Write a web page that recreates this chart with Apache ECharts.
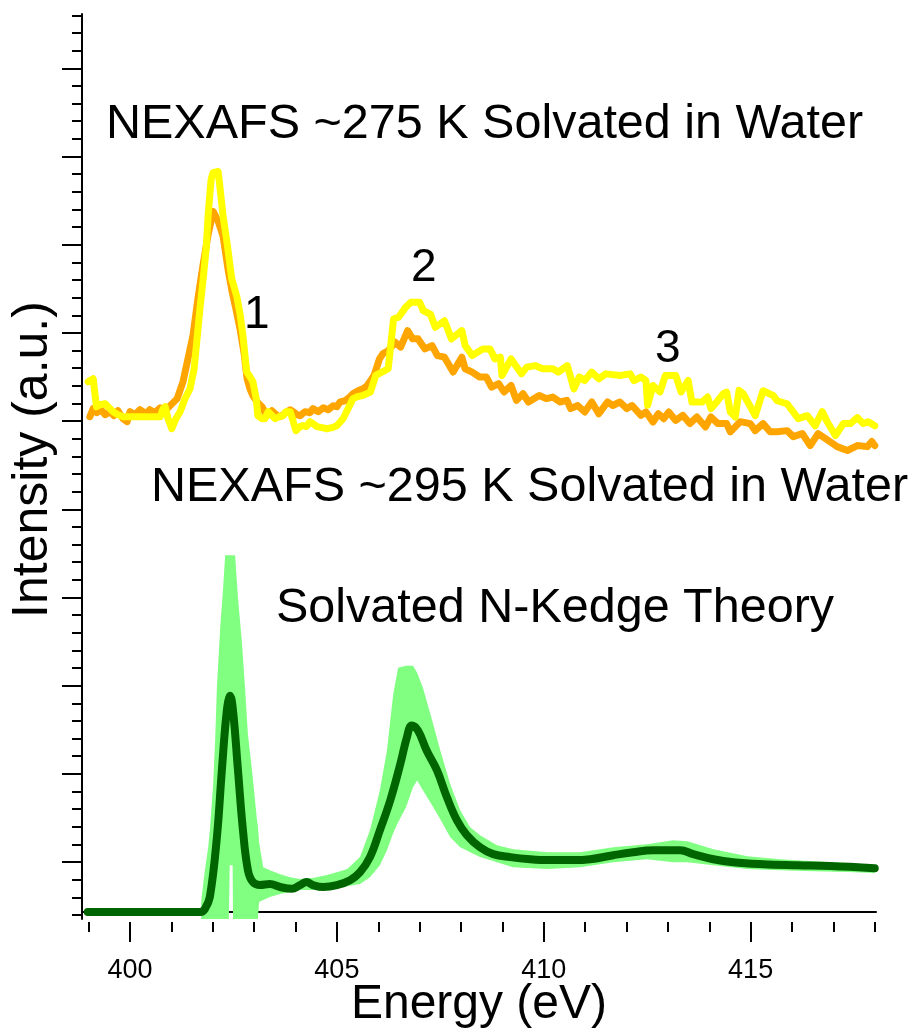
<!DOCTYPE html>
<html>
<head>
<meta charset="utf-8">
<title>NEXAFS N-Kedge</title>
<script src="https://cdn.jsdelivr.net/npm/echarts@6.0.0/dist/echarts.min.js"></script>
<style>
  html, body { margin: 0; padding: 0; background: #fff; }
  #chart { width: 914px; height: 1034px; }
</style>
</head>
<body>
<div id="chart"></div>
<script>
const FONT = '"Liberation Sans", Arial, sans-serif';

// NEXAFS ~295 K (orange)
const orangeEnergy = [
  399.03, 399.11, 399.20, 399.30, 399.40, 399.52, 399.61, 399.71, 399.83, 399.93,
  400.00, 400.12, 400.24, 400.39, 400.48, 400.60, 400.73, 400.85, 400.97, 401.14,
  401.28, 401.40, 401.52, 401.64, 401.76, 401.89, 402.01, 402.13, 402.25, 402.37,
  402.47, 402.56, 402.66, 402.76, 402.83, 402.90, 402.97, 403.09, 403.19, 403.31,
  403.43, 403.53, 403.63, 403.77, 403.87, 403.94, 404.04, 404.11, 404.23, 404.35,
  404.42, 404.55, 404.67, 404.79, 404.91, 405.00, 405.08, 405.20, 405.32, 405.39,
  405.51, 405.63, 405.73,
  405.90, 406.03, 406.11, 406.24, 406.41, 406.54, 406.71, 406.83, 406.96, 407.13,
  407.30, 407.43, 407.60, 407.81, 408.02, 408.10, 408.27, 408.45, 408.61, 408.74,
  408.91, 409.04, 409.21, 409.34, 409.50, 409.63, 409.89, 410.06, 410.22, 410.39,
  410.56, 410.65, 410.82, 410.99, 411.16, 411.33, 411.54, 411.67, 411.84, 412.01,
  412.13, 412.35, 412.47, 412.64, 412.77, 412.90, 413.02, 413.19, 413.36, 413.53,
  413.70, 413.91, 414.04, 414.21, 414.42, 414.51,
  414.75, 414.99, 415.11, 415.30, 415.47, 415.64, 415.88, 416.03, 416.25, 416.44,
  416.63, 416.88, 417.09, 417.34, 417.58, 417.82, 417.93, 418.00,
];
const orangeIntensity = [
  28.17, 28.63, 28.40, 28.57, 28.29, 28.46, 28.23, 28.51, 28.06, 27.89,
  28.46, 28.29, 28.57, 28.34, 28.57, 28.40, 28.68, 28.51, 28.80, 29.20,
  30.16, 31.46, 32.77, 34.86, 36.73, 38.55, 39.85, 39.29, 38.44, 36.56,
  35.26, 34.30, 33.16, 31.75, 30.33, 29.76, 29.37, 28.97, 28.74, 28.23,
  28.51, 28.29, 28.17, 28.40, 28.57, 28.46, 28.29, 28.23, 28.46, 28.40,
  28.63, 28.46, 28.68, 28.57, 28.80, 28.74, 29.02, 29.08, 29.31, 29.48,
  29.65, 29.76, 29.93,
  30.52, 31.46, 31.75, 31.93, 32.41, 32.13, 33.07, 32.60, 32.60, 32.03,
  32.22, 31.65, 31.56, 30.71, 31.56, 30.90, 30.71, 30.43, 30.43, 29.86,
  30.05, 29.58, 29.95, 29.10, 29.48, 29.01, 29.38, 29.20, 29.29, 29.01,
  29.10, 28.63, 28.81, 28.44, 29.01, 28.34, 29.01, 28.81, 29.01, 28.63,
  28.81, 28.25, 28.44, 27.87, 28.34, 28.06, 28.44, 27.96, 28.25, 27.78,
  28.16, 27.59, 28.16, 27.78, 27.78, 27.31,
  27.89, 27.78, 27.38, 27.78, 27.32, 27.32, 27.38, 27.04, 27.21, 26.53,
  27.21, 26.81, 26.47, 26.25, 26.53, 26.47, 26.76, 26.53,
];

// NEXAFS ~275 K (yellow)
const yellowEnergy = [
  398.99, 399.11, 399.19, 399.27, 399.40, 399.52, 399.59, 399.71, 399.83, 400.73,
  400.80, 400.85, 400.92, 401.01, 401.11, 401.21, 401.33, 401.45, 401.55, 401.62,
  401.69, 401.76, 401.84, 401.89, 401.96, 402.01, 402.13, 402.18, 402.25, 402.35,
  402.46, 402.58, 402.66, 402.73, 402.82, 402.90, 402.97, 403.05, 403.09, 403.19,
  403.26, 403.34, 403.38, 403.46, 403.51, 403.60, 403.70, 403.77, 403.87, 403.94,
  404.01, 404.11, 404.18, 404.26, 404.35, 404.42, 404.52, 404.64, 404.76, 404.88,
  405.00, 405.15, 405.27, 405.39, 405.49, 405.61, 405.81, 405.94, 406.24, 406.37,
  406.49, 406.66, 406.79, 407.00, 407.09, 407.26, 407.38, 407.60, 407.77, 408.02,
  408.10, 408.27, 408.53, 408.70, 408.82, 408.95, 408.99, 409.21, 409.46, 409.59,
  409.80, 409.97, 410.22, 410.35, 410.57, 410.73, 410.86, 410.99, 411.16, 411.33,
  411.50, 411.84, 412.09, 412.18, 412.35, 412.47, 412.51, 412.64, 412.81, 412.94,
  413.19, 413.32, 413.49, 413.58, 413.83, 413.96, 414.04, 414.21, 414.34, 414.42,
  414.51, 414.63, 414.72, 414.82, 415.06, 415.11, 415.30, 415.55, 415.64, 415.88,
  416.15, 416.37, 416.56, 416.73, 416.85, 417.05, 417.24, 417.41, 417.58, 417.72,
  417.84, 418.00,
];
const yellowIntensity = [
  30.16, 30.33, 28.74, 28.85, 28.91, 28.63, 28.46, 28.29, 28.17, 28.17,
  28.63, 28.74, 28.06, 27.49, 28.06, 28.46, 29.20, 29.76, 30.90, 32.60,
  34.30, 35.83, 37.70, 39.68, 41.67, 42.06, 42.12, 41.10, 39.57, 37.98,
  36.00, 35.03, 34.01, 32.77, 30.73, 30.44, 30.16, 29.20, 28.23, 28.06,
  28.06, 28.46, 28.46, 28.17, 28.06, 28.17, 28.23, 28.46, 28.46, 27.95,
  27.38, 27.61, 27.66, 27.61, 27.89, 27.78, 27.61, 27.55, 27.49, 27.55,
  27.66, 28.06, 28.63, 29.20, 29.31, 29.37, 29.57, 30.52, 30.90, 33.73,
  33.83, 34.39, 34.68, 34.68, 34.20, 34.01, 33.26, 33.63, 32.60, 33.07,
  32.22, 31.65, 32.03, 32.03, 31.46, 31.56, 30.52, 31.46, 30.61, 30.99,
  31.08, 30.90, 30.90, 30.71, 31.08, 29.76, 30.43, 30.23, 30.71, 30.33,
  30.61, 30.52, 30.61, 30.23, 30.43, 30.23, 28.82, 29.95, 29.58, 30.52,
  30.52, 29.58, 30.23, 29.01, 29.01, 29.29, 28.63, 29.10, 29.48, 29.57,
  28.44, 28.16, 29.67, 29.48, 28.46, 28.23, 29.65, 29.37, 29.08, 28.91,
  28.06, 28.23, 27.66, 28.46, 27.89, 27.10, 27.78, 27.78, 28.12, 27.78,
  27.89, 27.66,
];

// Solvated N-Kedge theory: mean curve
const theoryEnergy = [
  398.98, 401.70, 401.81, 401.93, 402.10, 402.22, 402.34, 402.42, 402.49, 402.61,
  402.73, 402.85, 402.97, 403.14, 403.38, 403.63, 403.91, 404.11, 404.27, 404.42,
  404.67, 405.00, 405.32, 405.56, 405.80, 406.04, 406.29, 406.53, 406.69, 406.81,
  406.96, 407.17, 407.42, 407.66, 407.90, 408.14, 408.46, 408.78, 409.19, 409.67,
  410.15, 410.71, 411.12, 411.68, 412.16, 412.65, 413.30, 413.61, 414.10, 414.58,
  415.30, 416.13, 416.92, 418.00,
];
const theoryIntensity = [
  0, 0, 0.17, 0.85, 4.25, 8.05, 11.45, 12.30, 11.45, 8.05,
  4.65, 2.38, 1.70, 1.53, 1.59, 1.42, 1.32, 1.53, 1.70, 1.53,
  1.42, 1.53, 1.81, 2.27, 3.12, 4.65, 6.35, 8.39, 9.92, 10.60,
  10.32, 9.18, 8.05, 6.52, 5.22, 4.37, 3.68, 3.29, 3.12, 3.00,
  2.95, 2.95, 3.00, 3.23, 3.40, 3.51, 3.51, 3.29, 3.00, 2.83,
  2.72, 2.66, 2.61, 2.49,
];

// Solvated N-Kedge theory: spread band
const bandEnergy = [
  401.72, 401.76, 401.81, 401.89, 401.93, 402.01, 402.06, 402.10, 402.18, 402.25,
  402.30, 402.39, 402.41, 402.48, 402.49, 402.54, 402.61, 402.71, 402.78, 402.85,
  402.95, 403.07, 403.09, 403.12, 403.22, 403.38, 403.63, 403.87, 404.11, 404.42,
  404.76, 405.08, 405.25, 405.56, 405.80, 406.04, 406.21, 406.36, 406.48, 406.67,
  406.84, 406.94, 407.08, 407.33, 407.50, 407.74, 407.98, 408.22, 408.46, 408.87,
  409.26, 410.08, 410.88, 411.68, 412.50, 413.13, 413.47, 414.10, 414.92, 415.72,
  416.51, 417.34, 418.00,
];
const bandUpper = [
  0.57, 1.42, 2.38, 3.68, 4.65, 7.26, 9.92, 12.76, 16.16, 18.42,
  20.29, 20.29, 20.29, 20.29, 20.29, 20.29, 17.86, 15.19, 12.76, 10.09,
  8.05, 5.22, 4.93, 3.97, 2.55, 2.38, 2.15, 1.98, 1.87, 1.93,
  2.10, 2.32, 2.44, 3.12, 4.65, 6.92, 9.18, 12.36, 13.89, 14.00,
  14.00, 13.61, 12.76, 10.66, 9.18, 7.26, 5.78, 4.82, 4.37, 3.80,
  3.57, 3.40, 3.40, 3.68, 3.85, 4.08, 4.02, 3.57, 3.17, 3.00,
  2.89, 2.78, 2.66,
];
const bandLower = [
  -0.4, -0.4, -0.4, -0.4, -0.4, -0.4, -0.4, -0.4, -0.4, -0.4,
  -0.4, -0.4, 2.66, 2.66, -0.4, -0.4, -0.4, -0.4, -0.4, -0.4,
  -0.4, -0.4, -0.4, 0.57, 0.68, 0.85, 1.02, 1.13, 1.25, 1.25,
  1.36, 1.42, 1.47, 1.59, 1.98, 2.66, 3.51, 4.48, 5.10, 5.95,
  7.09, 7.48, 6.92, 5.95, 5.27, 4.25, 3.68, 3.40, 3.12, 2.83,
  2.55, 2.44, 2.55, 2.83, 3.00, 2.83, 2.83, 2.66, 2.44, 2.38,
  2.32, 2.27, 2.21,
];

const pairs = (xs, ys) => xs.map((x, i) => [x, ys[i]]);

// data range of the plot area
const xMin = 398.84;
const xMax = 418.03;
const yMin = -0.4;
const yMax = 51.08;

// plot area in pixels; tick grids are placed on the same scale
const plot = { left: 82, top: 14, width: 794, height: 908 };
const pxPerX = plot.width / (xMax - xMin);
const pxPerY = plot.height / (yMax - yMin);
const xPos = v => plot.left + (v - xMin) * pxPerX;
const yPos = v => plot.top + (yMax - v) * pxPerY;

const tickLine = { color: '#000', width: 2 };
const hidden = { show: false };

// one grid per tick set, so each tick set can start at its own value
function tickGridX(from, to) {
  return { left: xPos(from), width: xPos(to) - xPos(from), top: plot.top, height: plot.height };
}
function tickGridY(from, to) {
  return { left: plot.left, width: plot.width, top: yPos(to), height: yPos(from) - yPos(to) };
}

const chart = echarts.init(document.getElementById('chart'));

const option = {
  animation: false,
  backgroundColor: '#fff',
  grid: [
    { left: plot.left, top: plot.top, width: plot.width, height: plot.height },
    tickGridX(400, 415),
    tickGridX(399, 418),
    tickGridY(3, 48),
    tickGridY(0, 51),
  ],
  xAxis: [
    {
      gridIndex: 0,
      type: 'value',
      min: xMin,
      max: xMax,
      axisLine: { lineStyle: tickLine },
      axisTick: hidden,
      axisLabel: hidden,
      splitLine: hidden,
      name: 'Energy (eV)',
      nameLocation: 'middle',
      nameGap: 62,
      nameTextStyle: { color: '#000', fontSize: 48, fontFamily: FONT },
    },
    {
      // major ticks + labels
      gridIndex: 1,
      type: 'value',
      min: 400,
      max: 415,
      interval: 5,
      axisLine: hidden,
      axisTick: { show: true, length: 20, lineStyle: tickLine },
      axisLabel: { color: '#000', fontSize: 27, fontFamily: FONT, margin: 35 },
      splitLine: hidden,
    },
    {
      // minor ticks
      gridIndex: 2,
      type: 'value',
      min: 399,
      max: 418,
      interval: 1,
      axisLine: hidden,
      axisTick: { show: true, length: 10, lineStyle: tickLine },
      axisLabel: hidden,
      splitLine: hidden,
    },
    { gridIndex: 3, type: 'value', show: false },
    { gridIndex: 4, type: 'value', show: false },
  ],
  yAxis: [
    {
      gridIndex: 0,
      type: 'value',
      min: yMin,
      max: yMax,
      axisLine: { show: true, lineStyle: tickLine },
      axisTick: hidden,
      axisLabel: hidden,
      splitLine: hidden,
      name: 'Intensity (a.u.)',
      nameLocation: 'middle',
      nameGap: 24,
      nameTextStyle: { color: '#000', fontSize: 50, fontFamily: FONT, padding: [0, 0, 0, 14] },
    },
    { gridIndex: 1, type: 'value', show: false },
    { gridIndex: 2, type: 'value', show: false },
    {
      // major ticks
      gridIndex: 3,
      type: 'value',
      min: 0,
      max: 45,
      interval: 5,
      axisLine: hidden,
      axisTick: { show: true, length: 20, lineStyle: tickLine },
      axisLabel: hidden,
      splitLine: hidden,
    },
    {
      // minor ticks
      gridIndex: 4,
      type: 'value',
      min: 0,
      max: 51,
      interval: 1,
      axisLine: hidden,
      axisTick: { show: true, length: 10, lineStyle: tickLine },
      axisLabel: hidden,
      splitLine: hidden,
    },
  ],
  series: [
    {
      name: 'Theory spread',
      type: 'custom',
      z: 1,
      data: bandEnergy.map((e, i) => [e, bandLower[i], bandUpper[i]]),
      encode: { x: 0, y: [1, 2] },
      renderItem: (params, api) => {
        if (params.dataIndex !== 0) return null;
        const top = bandEnergy.map((e, i) => api.coord([e, bandUpper[i]]));
        const bottom = bandEnergy.map((e, i) => api.coord([e, bandLower[i]])).reverse();
        return {
          type: 'polygon',
          shape: { points: top.concat(bottom) },
          style: { fill: '#80ff80', stroke: null },
        };
      },
    },
    {
      name: 'Solvated N-Kedge Theory',
      type: 'line',
      z: 3,
      data: pairs(theoryEnergy, theoryIntensity),
      showSymbol: false,
      smooth: 0.4,
      lineStyle: { color: '#006400', width: 8, cap: 'round', join: 'round' },
    },
    {
      name: 'NEXAFS ~295 K',
      type: 'line',
      z: 4,
      data: pairs(orangeEnergy, orangeIntensity),
      showSymbol: false,
      lineStyle: { color: '#ffa500', width: 7, cap: 'round', join: 'round' },
    },
    {
      name: 'NEXAFS ~275 K',
      type: 'line',
      z: 5,
      data: pairs(yellowEnergy, yellowIntensity),
      showSymbol: false,
      lineStyle: { color: '#ffff00', width: 7, cap: 'round', join: 'round' },
    },
  ],
  graphic: [
    {
      type: 'text',
      left: 106,
      top: 100,
      style: { text: 'NEXAFS ~275 K Solvated in Water', fill: '#000', font: '48.5px ' + FONT },
    },
    {
      type: 'text',
      left: 151,
      top: 463,
      style: { text: 'NEXAFS ~295 K Solvated in Water', fill: '#000', font: '48.5px ' + FONT },
    },
    {
      type: 'text',
      left: 276,
      top: 584,
      style: { text: 'Solvated N-Kedge Theory', fill: '#000', font: '48.5px ' + FONT },
    },
    {
      type: 'text',
      left: 244,
      top: 292,
      style: { text: '1', fill: '#000', font: '46px ' + FONT },
    },
    {
      type: 'text',
      left: 411,
      top: 245,
      style: { text: '2', fill: '#000', font: '46px ' + FONT },
    },
    {
      type: 'text',
      left: 655,
      top: 326,
      style: { text: '3', fill: '#000', font: '46px ' + FONT },
    },
  ],
};

chart.setOption(option);
</script>
</body>
</html>
